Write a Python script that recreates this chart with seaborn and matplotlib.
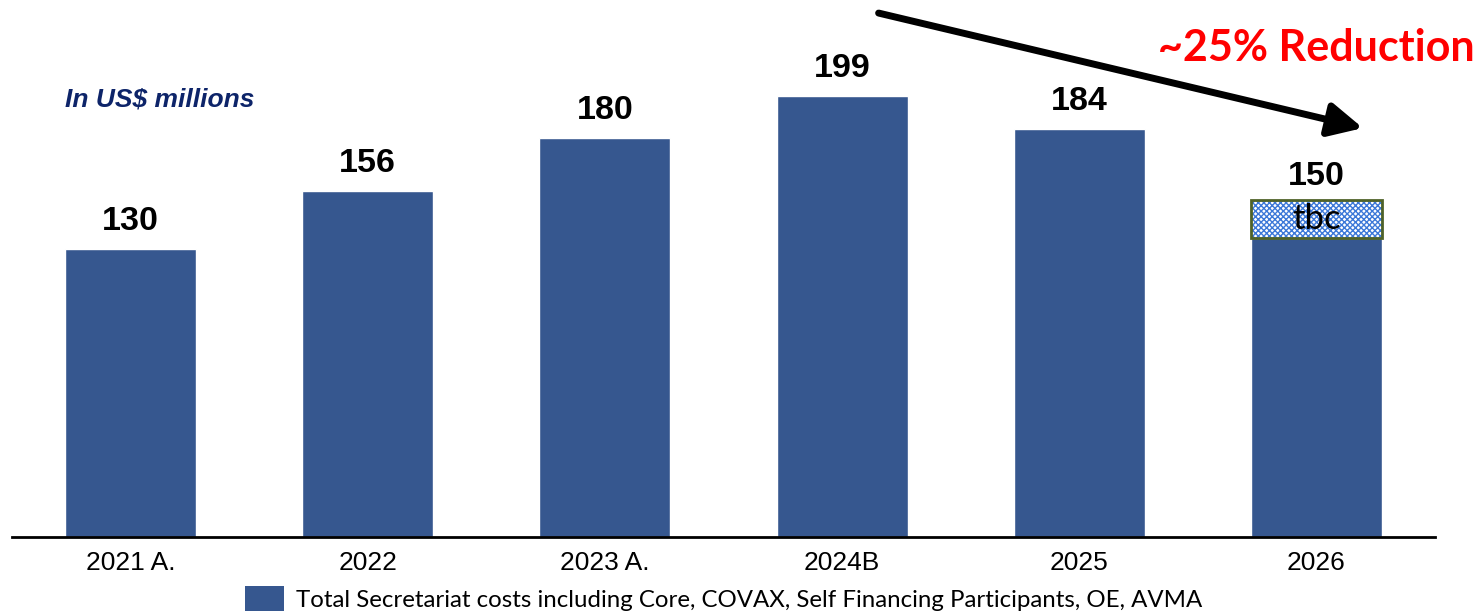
import matplotlib
matplotlib.use("Agg")
import matplotlib.pyplot as plt
import seaborn as sns
import pandas as pd
from matplotlib.patches import Patch

categories = ["2021 A.", "2022", "2023 A.", "2024B", "2025", "2026"]
base_values = [130, 156, 180, 199, 184, 135]
tbc_values = [0, 0, 0, 0, 0, 17]
total_labels = ["130", "156", "180", "199", "184", "150"]
legend_label = "Total Secretariat costs including Core, COVAX, Self Financing Participants, OE, AVMA"

BAR = "#36578F"

sns.set_theme(style="white")
plt.rcParams['font.family'] = ['Liberation Sans', 'DejaVu Sans']
plt.rcParams['text.color'] = 'black'

fig = plt.figure(figsize=(14.81, 6.16), dpi=100)
ax = fig.add_axes([12/1481, 79/616, 1423/1481, 537/616])

df = pd.DataFrame({"cat": categories, "val": base_values})
sns.barplot(data=df, x="cat", y="val", color=BAR, saturation=1, width=0.553, ax=ax)

# tbc segment
xs = list(range(len(categories)))
ax.bar(xs, tbc_values, bottom=base_values, width=0.553, color="white",
       edgecolor="#3C78D8", hatch="xxxxxx", linewidth=0)
for x, b, t in zip(xs, base_values, tbc_values):
    if t > 0:
        ax.bar([x], [t], bottom=[b], width=0.553, fill=False, edgecolor="#4F6228", linewidth=2)
        ax.text(x, b + t / 2, "tbc", ha="center", va="center", fontsize=25,
                family=['Lato', 'DejaVu Sans'], color="black")

for x, b, t, lab in zip(xs, base_values, tbc_values, total_labels):
    y = b + t
    if t > 0:
        y = b + t - 2
    ax.annotate(lab, (x, y), xytext=(0, 9), textcoords="offset points",
                ha="center", va="bottom", fontsize=24.5, fontweight="bold", color="black")

ax.set_xlim(-0.5, 5.5)
ax.set_ylim(0, 242.4)
ax.set_xlabel("")
ax.set_ylabel("")
ax.set_yticks([])
ax.tick_params(axis="x", length=0, labelsize=19, pad=10, colors="black")
for s in ["top", "right", "left"]:
    ax.spines[s].set_visible(False)
ax.spines["bottom"].set_color("black")
ax.spines["bottom"].set_linewidth(2)

ax.text(0.037, 0.814, "In US$ millions", transform=ax.transAxes, fontsize=19,
        fontweight="bold", fontstyle="italic", color="#0D2469", ha="left", va="center")

# reduction arrow
ax.annotate("", xy=(5.196, 184.6), xytext=(3.154, 236.5),
            arrowprops=dict(arrowstyle="-|>,head_length=1.7,head_width=0.85", color="black", lw=5,
                            shrinkA=0, shrinkB=0), annotation_clip=False)
fig.text(1475/1481, 1 - 48/616, "~25% Reduction", ha="right", va="center", fontsize=31,
         fontweight="bold", color="#FF0000", family=['Lato', 'DejaVu Sans'])

handles = [Patch(facecolor=BAR, edgecolor="none", label=legend_label)]
leg = ax.legend(handles=handles, loc="upper center", bbox_to_anchor=(0.5, -0.074),
                frameon=False, handlelength=1.6, handleheight=1.2,
                handletextpad=0.5, borderaxespad=0,
                prop={'family': ['Lato', 'DejaVu Sans'], 'size': 17.3})

fig.savefig("out.png", dpi=100)
